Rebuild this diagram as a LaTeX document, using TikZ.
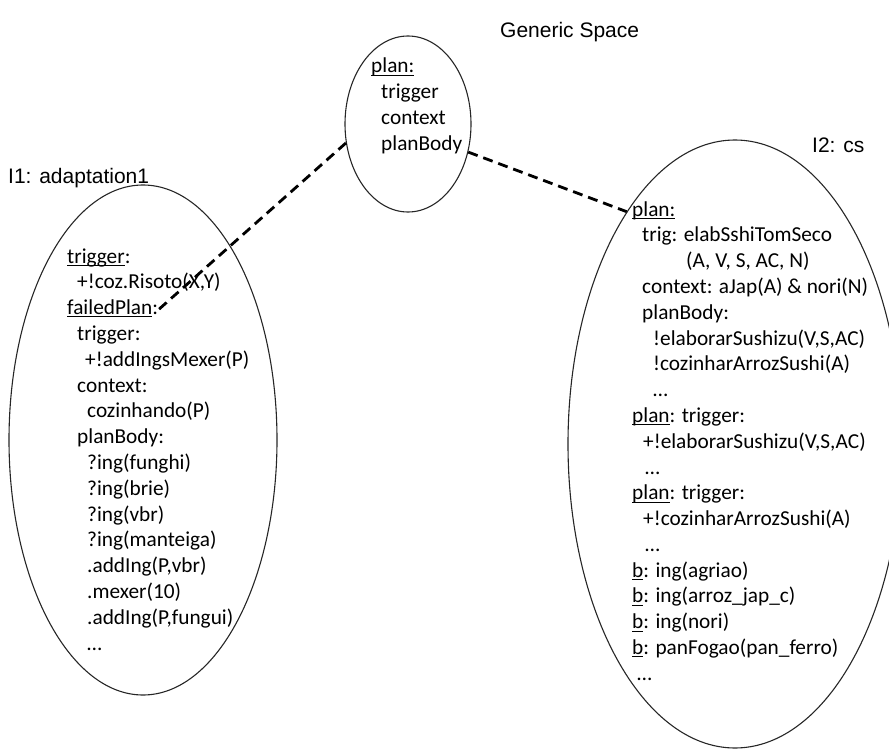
\documentclass[tikz,border=0pt]{standalone}
\usepackage{fontspec}
\setmainfont{Carlito}
\newfontfamily\headfont{Liberation Sans}
\usetikzlibrary{shapes.geometric}
% underline drawn at a fixed depth, crossing the descenders
\newcommand\uln[1]{\setbox0\hbox{#1}\rlap{\rule[-2.6pt]{\wd0}{0.9pt}}\box0}
\newcommand\ind[1]{\hspace*{#1pt}}
\begin{document}
\begin{tikzpicture}[x=1pt,y=-1pt,
  space/.style={draw=black!85, line width=1.1pt, ellipse, inner sep=0pt},
  body/.style={anchor=base west, inner sep=0pt, font=\fontsize{21.3pt}{25.8pt}\selectfont},
  title/.style={anchor=base west, inner sep=0pt, font=\headfont\fontsize{21pt}{25pt}\selectfont},
  link/.style={line width=2.8pt, dash pattern=on 10pt off 6pt}]
\useasboundingbox (0,0) rectangle (889,749);

% the three spaces
\node[space, minimum width=126pt, minimum height=176pt] (gen) at (408,124) {};
\node[space, minimum width=268pt, minimum height=510pt] (adapt) at (143,440) {};
\node[space, minimum width=334pt, minimum height=608pt] (cs) at (735,444) {};

% titles
\node[title] (tgen) at (500,38) {Generic Space};
\node[title] (tadapt) at (8,183) {I1: adaptation1};
\node[title] (tcs) at (812,153) {I2: cs};

% generic space contents
\node[body] (bgen) at (371,73) {\begin{tabular}[t]{@{}l@{}}
\uln{plan:}\\
\ind{10}trigger\\
\ind{10}context\\
\ind{10}planBody
\end{tabular}};

% adaptation1 contents
\node[body] (badapt) at (67,263) {\begin{tabular}[t]{@{}l@{}}
\uln{trigger}:\\
\ind{10}+!coz.Risoto(X,Y)\\
\uln{failedPlan}:\\
\ind{10}trigger:\\
\ind{18}+!addIngsMexer(P)\\
\ind{10}context:\\
\ind{20}cozinhando(P)\\
\ind{10}planBody:\\
\ind{20}?ing(funghi)\\
\ind{20}?ing(brie)\\
\ind{20}?ing(vbr)\\
\ind{20}?ing(manteiga)\\
\ind{20}.addIng(P,vbr)\\
\ind{20}.mexer(10)\\
\ind{20}.addIng(P,fungui)\\
\ind{20}…
\end{tabular}};

% cs contents
\node[body] (bcs) at (632,216) {\begin{tabular}[t]{@{}l@{}}
\uln{plan:}\\
\ind{10}trig: elabSshiTomSeco\\
\ind{54}(A, V, S, AC, N)\\
\ind{10}context: aJap(A) \& nori(N)\\
\ind{10}planBody:\\
\ind{21}!elaborarSushizu(V,S,AC)\\
\ind{21}!cozinharArrozSushi(A)\\
\ind{21}…\\
\uln{plan}: trigger:\\
\ind{11}+!elaborarSushizu(V,S,AC)\\
\ind{13}…\\
\uln{plan}: trigger:\\
\ind{11}+!cozinharArrozSushi(A)\\
\ind{13}…\\
\uln{b}: ing(agriao)\\
\uln{b}: ing(arroz\_jap\_c)\\
\uln{b}: ing(nori)\\
\uln{b}: panFogao(pan\_ferro)\\
\ind{5}…
\end{tabular}};

% mappings from the generic space
\coordinate (fp) at (157,311);
\draw[link] (gen.197) -- (fp);
\draw[link] (gen.335) -- (cs.115);
\end{tikzpicture}
\end{document}
